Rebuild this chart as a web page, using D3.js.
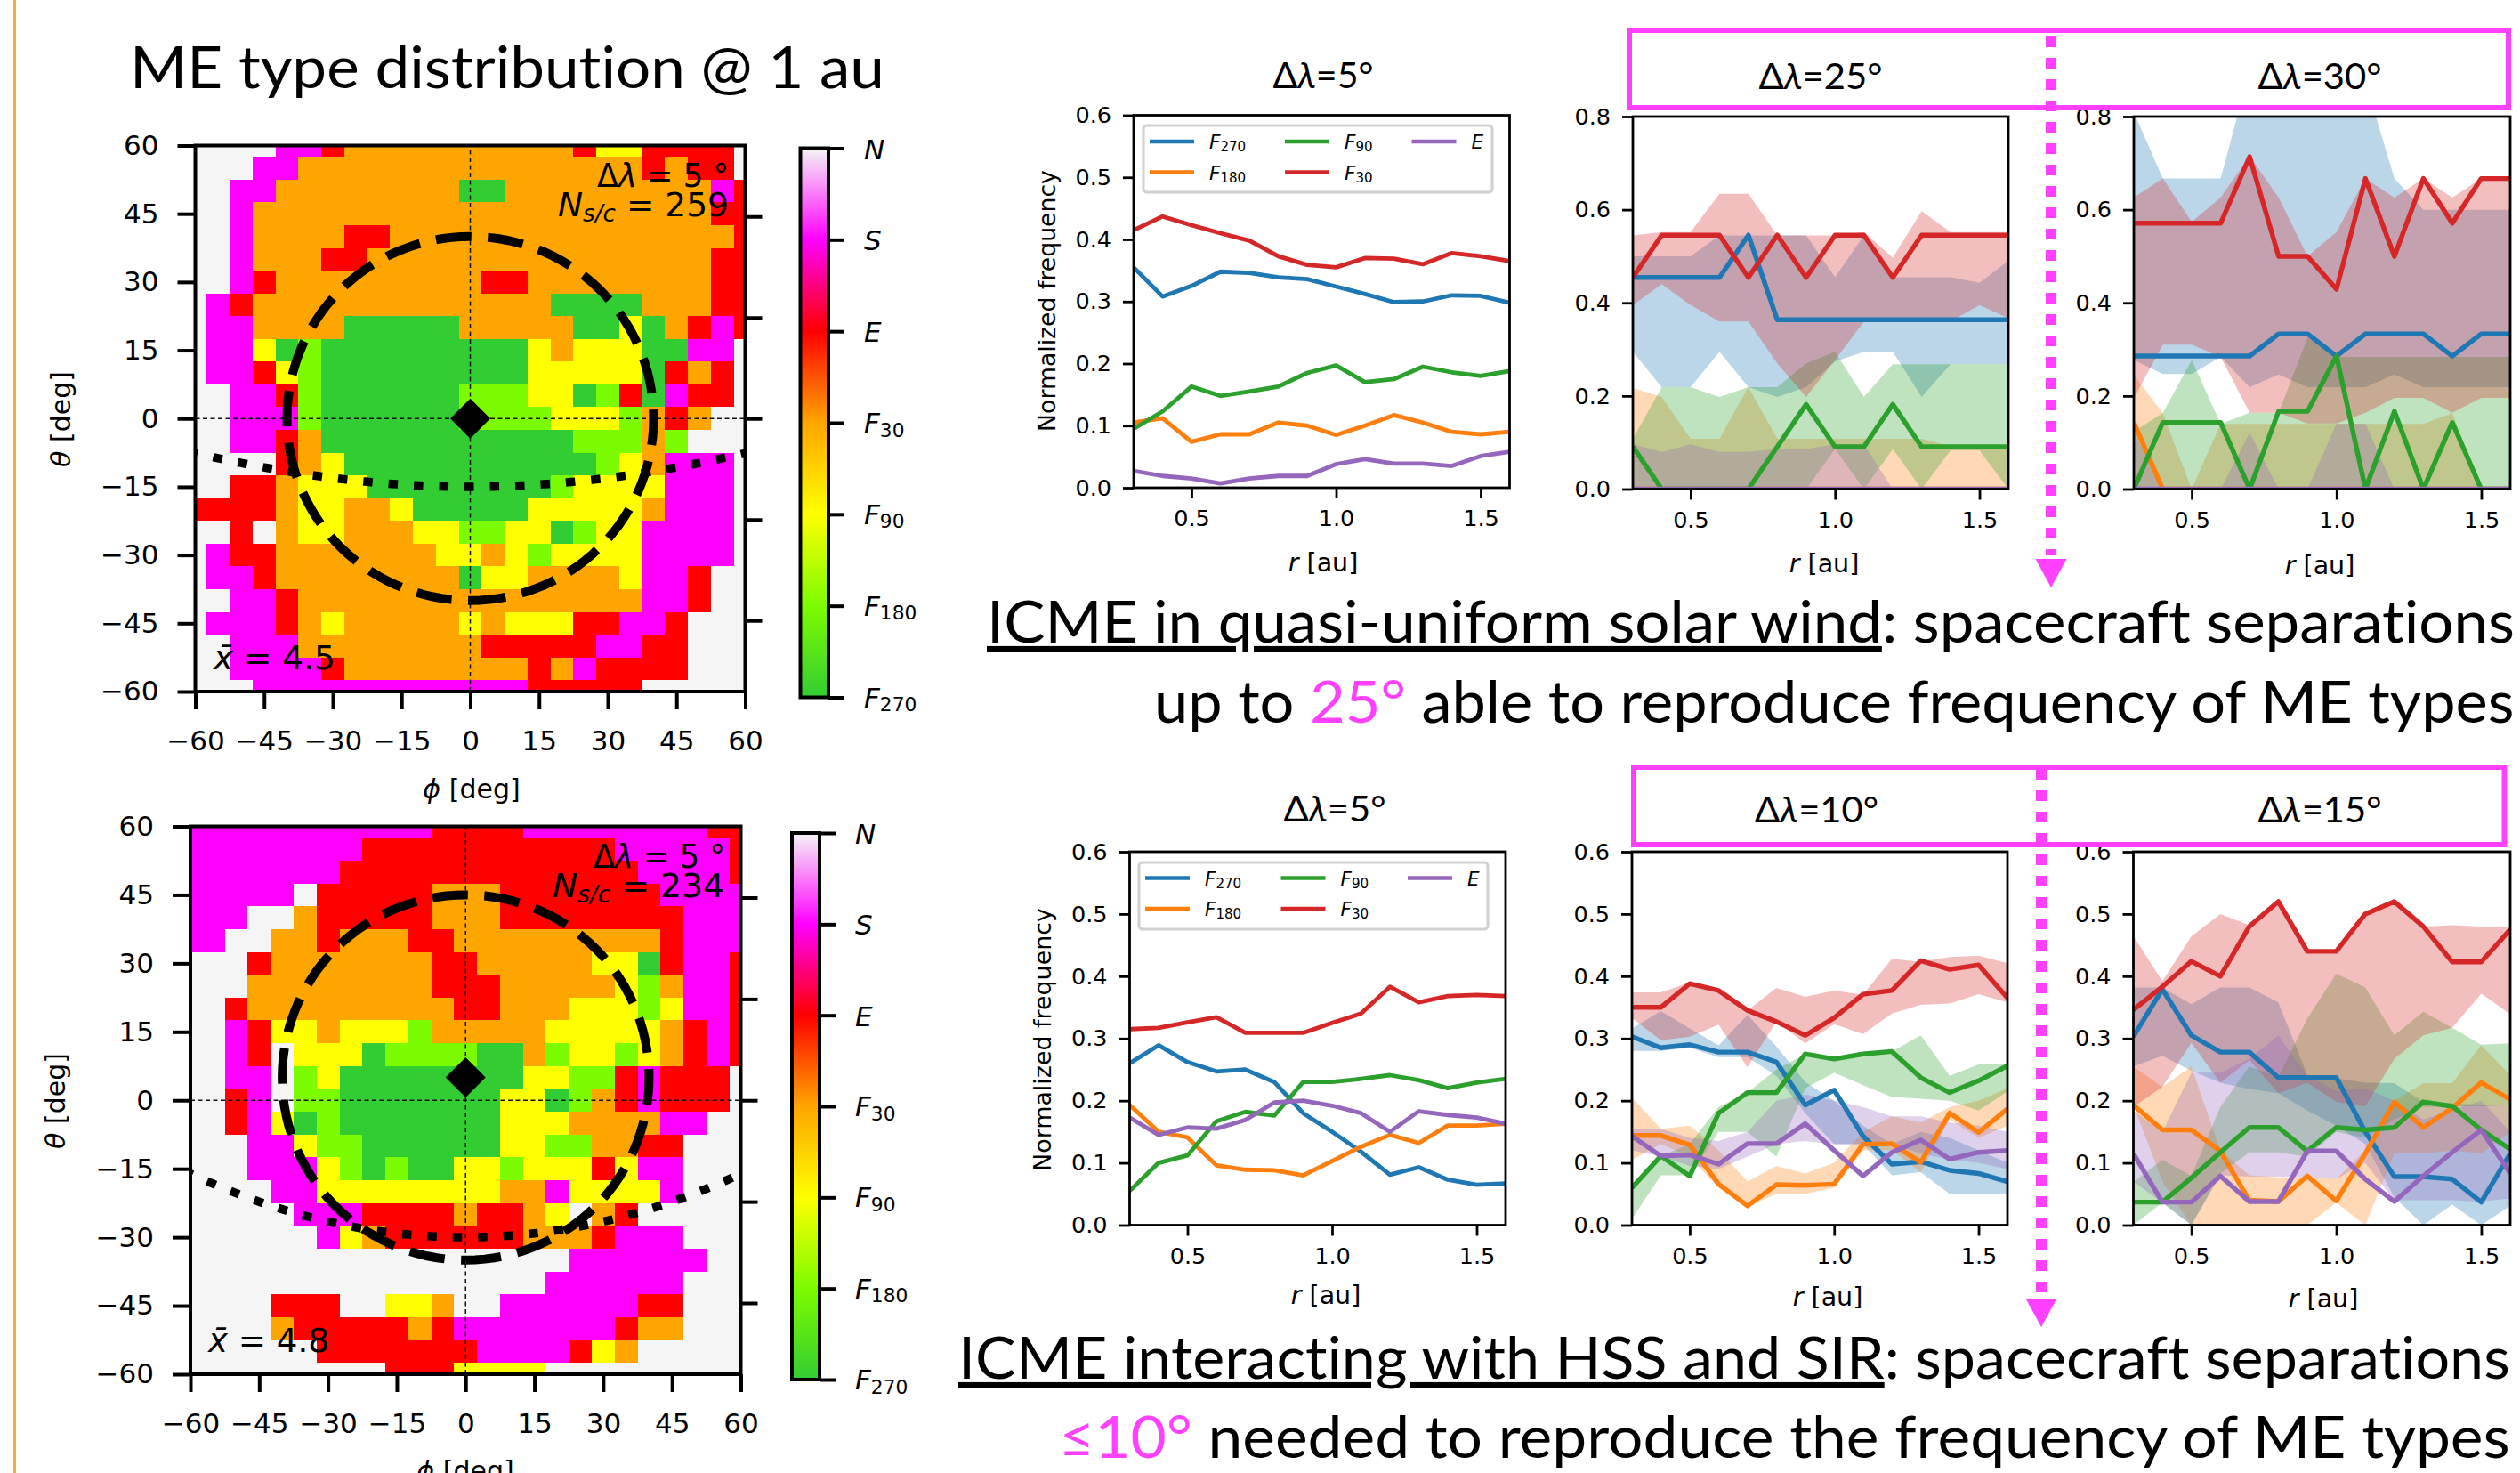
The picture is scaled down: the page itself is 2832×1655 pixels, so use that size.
<!DOCTYPE html>
<html><head><meta charset="utf-8">
<script src="https://cdnjs.cloudflare.com/ajax/libs/d3/7.8.5/d3.min.js"></script>
<style>
html,body{margin:0;padding:0;background:#fff;overflow:hidden}
svg{display:block}
text{font-family:"DejaVu Sans",sans-serif;fill:#000;font-variant-ligatures:none}
.axis path.domain{display:none}
</style></head><body>
<svg id="c" width="2832" height="1655" xmlns="http://www.w3.org/2000/svg"></svg>
<script>
// ---------- DATA ----------
const typeNames = ["N","S","E","F30","F90","F180","F270"];
const typeColors = ["#f5f5f5","#ff00ff","#ff0000","#ffa500","#ffff00","#7cfc00","#32cd32"];
const codeOf = {G:0,M:1,R:2,O:3,Y:4,L:5,D:6};
const angleTicks = [-60,-45,-30,-15,0,15,30,45,60];
const sideTicks = [44.4,22.2,0,-22.2,-44.4];
const phiCentres = d3.range(-60,65,5);

// rows run from theta=60 (first) to theta=-60 (last), columns from phi=-60 to phi=60
const gridTop = [
"GGGGMMROOOOOOOOOORYYRRRRG",
"GGGMMOOOOOOOOOOOOOOORORRG",
"GGMMOOOOOOOODDOOOOOOOOOMR",
"GGMOOOOOOOOOOOOOOOOOOOORR",
"GGMOOOORROOOOOOOOOOOOOOOR",
"GGMOOORROOOOOOOOOOOOOOORR",
"GGMROOOOOOOOORROOOOOOOORR",
"GMROOOOOOOOOOOOODDDDOOORR",
"GMMOOOODDDDDOOOOODDYDORMR",
"GMMYDLDDDDDDDDDYOYYYDDMMG",
"GMMRYLDDDDDDDDDYYYYYDRORG",
"GGMMRLDDDDDDLLLYYDLRDMRRG",
"GGMMMLDDDDDDLLLLYYYLOROGG",
"GGMMRODDDDDDDDDDDLLLOLGGG",
"GGGGROYDDDDDDDDDDDLYOMMMG",
"GGRROYYYDDDDDDDDLYYYYMMMG",
"RRRROYYOOYDDDDDYYYYYOMMMG",
"GGRGOYYOOOYYLLYYDLYYMMMMG",
"GMRROOOOOOOYYOYLYYYYMMMMG",
"GMMROOOOOOOODYYOOOOYMMRGG",
"GGMMROOOOOOOOOOOOOOOMMRGG",
"GMMMROYOOOOOYOYYYRRMMRGGG",
"GGMMMOOOOOOOORRRRRMMRRGGG",
"GGMMMMROOOOOOOOROMRRRRGGG",
"GGGMMMMMMMMMMMMRRRRRGGGGG"];
const gridBottom = [
"MMMMMMMMMMMRRRRMMMMMMMMRR",
"MMMMMMMMRRRRRRRRRRRMMMMMR",
"MMMMMMMRRRRRRRRRRRRRMMMMR",
"MMMMMGRRRRROOORRRRRRRMMMM",
"MMMGGORRRRROOORRRRRRRRMMM",
"MMGGOOROOORROOOOOOOOORMMM",
"GGGROOOOOOORROOOOOYYDRMMR",
"GGGOOOOOOOORRROOOOOYLOMMR",
"GGROOOOOOOOORROOOYYYLYMMR",
"GGMRYYOYYYLOOOOOYYYYYORMR",
"GGMRGYYYDLLLLDDOLYYLYORMR",
"GGMMGLYDDDDDDDDYYLLRMRRRG",
"GGRMGLLDDDDDDDYYDLORMRRRG",
"GGRMYDLDDDDDDDYYYOOOOMMGG",
"GGGMMYLLDDDDDDYYLLOORRGGG",
"GGGMMMYLDLDDYYLYYYRYMMGGG",
"GGGGMMYYYYYYYYOOMYYYYMGGG",
"GGGGGMMMRRRRORROYGORGGGGG",
"GGGGGGMYORRRRRROOORMMMGGG",
"GGGGGGGGGGGGGGGGGMMMMMMGG",
"GGGGGGGGGGGGGGGGMMMMMMGGG",
"GGGGRRRGGYYOGGMMMMMMRRGGG",
"GGGGORRRRRORMMMMMMMROOGGG",
"GGGGGGRRRRRRRMMMMRYOGGGGG",
"GGGGGGGGGRRRYYYYGGGGGGGGG"];

const rValues = [0.3,0.4,0.5,0.6,0.7,0.8,0.9,1.0,1.1,1.2,1.3,1.4,1.5,1.6];
const seriesNames = ["F270","F180","F90","F30","E"];
const seriesColors = ["#1f77b4","#ff7f0e","#2ca02c","#d62728","#9467bd"];
const zeros = [0,0,0,0,0,0,0,0,0,0,0,0,0,0];

// upper row, dLambda = 5
const u5Blue   = [.355,.308,.325,.348,.346,.339,.336,.324,.312,.299,.300,.310,.309,.298];
const u5Orange = [.105,.112,.074,.086,.086,.105,.100,.085,.100,.117,.105,.090,.086,.090];
const u5Green  = [.095,.123,.163,.148,.155,.163,.185,.197,.170,.175,.195,.186,.180,.188];
const u5Red    = [.415,.437,.423,.410,.398,.373,.359,.355,.370,.369,.360,.378,.373,.365];
const u5Purple = [.027,.019,.015,.007,.015,.019,.019,.038,.046,.039,.039,.035,.051,.058];

// upper row, dLambda = 25
const u25Blue   = [.4545,.4545,.4545,.4545,.5454,.3636,.3636,.3636,.3636,.3636,.3636,.3636,.3636,.3636];
const u25BlueHi = [.5,.5,.5,.545,.545,.545,.545,.455,.545,.455,.455,.455,.443,.49];
const u25BlueLo = [.295,.219,.219,.295,.219,.198,.219,.274,.295,.295,.198,.268,.268,.268];
const u25OrangeHi = [.217,.198,.108,.108,.219,.108,.108,.108,.108,.108,.108,.092,.092,.092];
const u25Green   = [.0909,0,0,0,0,.0909,.1818,.0909,.0909,.1818,.0909,.0909,.0909,.0909];
const u25GreenHi = [.108,.219,.219,.198,.219,.219,.27,.295,.198,.268,.268,.268,.268,.268];
const u25GreenLo = [0,0,0,0,0,0,0,.086,0,.086,0,.083,.083,0];
const u25Red   = [.4545,.5454,.5454,.5454,.4545,.5454,.4545,.5454,.5454,.4545,.5454,.5454,.5454,.5454];
const u25RedHi = [.545,.552,.552,.634,.634,.545,.545,.545,.552,.497,.597,.552,.552,.552];
const u25RedLo = [.395,.44,.395,.36,.36,.27,.198,.277,.36,.36,.36,.36,.395,.367];
const u25PurpleHi = [.096,.08,.096,.08,.08,.086,.086,.096,.096,0,0,0,0,0];

// upper row, dLambda = 30
const u30Blue   = [.2857,.2857,.2857,.2857,.2857,.3333,.3333,.2857,.3333,.3333,.3333,.2857,.3333,.3333];
const u30BlueHi = [.81,.667,.667,.667,.9,.9,.9,.9,.875,.667,.6,.6,.6,.6];
const u30BlueLo = [.277,.247,.247,.284,.219,.246,.219,.219,.219,.246,.219,.219,.219,.219];
const u30Orange   = [.143,0,0,0,0,0,0,0,0,0,0,0,0,0];
const u30OrangeHi = [.245,.163,0,.14,.14,.14,.14,.14,.14,.14,.14,.163,0,0];
const u30Green   = [0,.143,.143,.143,0,.167,.167,.286,0,.167,0,.143,0,0];
const u30GreenHi = [.124,.163,.277,.14,.164,.164,.325,.284,.284,.284,.284,.284,.284,.284];
const u30Red   = [.571,.571,.571,.571,.714,.5,.5,.429,.667,.5,.667,.571,.667,.667];
const u30RedHi = [.626,.667,.574,.626,.715,.626,.5,.552,.667,.626,.667,.626,.667,.667];
const u30RedLo = [.195,.31,.31,.284,.164,.164,.141,.141,.164,.196,.196,.164,.196,.196];
const u30PurpleHi = [.124,0,0,0,.121,0,0,.14,.14,0,0,0,0,0];

// lower row, dLambda = 5
const l5Blue   = [.260,.289,.262,.247,.250,.230,.180,.150,.118,.081,.093,.073,.065,.067];
const l5Orange = [.193,.150,.141,.096,.089,.088,.080,.103,.126,.145,.132,.160,.160,.163];
const l5Green  = [.055,.100,.112,.167,.182,.176,.230,.230,.235,.241,.233,.220,.229,.235];
const l5Red    = [.315,.317,.326,.334,.309,.309,.309,.325,.340,.383,.358,.368,.370,.368];
const l5Purple = [.173,.145,.157,.155,.169,.197,.200,.192,.180,.150,.183,.177,.173,.163];

// lower row, dLambda = 10
const l10Blue   = [.303,.285,.29,.278,.278,.262,.193,.217,.143,.098,.102,.088,.083,.07];
const l10BlueHi = [.316,.344,.316,.289,.338,.287,.23,.2,.16,.13,.15,.14,.12,.1];
const l10BlueLo = [.28,.28,.285,.27,.27,.24,.18,.13,.13,.08,.085,.05,.05,.05];
const l10Orange   = [.144,.144,.129,.066,.031,.065,.064,.066,.13,.131,.101,.18,.149,.187];
const l10OrangeHi = [.205,.155,.16,.12,.07,.095,.083,.1,.15,.175,.165,.19,.2,.22];
const l10OrangeLo = [.105,.13,.11,.06,.03,.05,.05,.06,.12,.12,.085,.17,.14,.16];
const l10Green   = [.06,.111,.079,.18,.213,.213,.275,.267,.275,.279,.237,.213,.232,.256];
const l10GreenHi = [.06,.111,.13,.19,.213,.25,.275,.267,.275,.279,.305,.24,.258,.258];
const l10GreenLo = [.01,.08,.08,.15,.15,.11,.22,.245,.225,.206,.203,.2,.184,.215];
const l10Red   = [.35,.35,.388,.377,.345,.327,.305,.333,.371,.377,.425,.411,.418,.365];
const l10RedHi = [.374,.374,.39,.377,.345,.381,.367,.377,.37,.428,.423,.431,.433,.421];
const l10RedLo = [.333,.297,.303,.322,.254,.327,.292,.323,.307,.34,.354,.356,.371,.358];
const l10Purple   = [.143,.111,.113,.098,.131,.131,.163,.12,.079,.117,.137,.106,.117,.12];
const l10PurpleHi = [.155,.155,.14,.135,.15,.2,.21,.2,.19,.175,.175,.165,.16,.15];
const l10PurpleLo = [.12,.11,.095,.09,.11,.13,.135,.13,.13,.13,.115,.105,.1,.09];

// lower row, dLambda = 15
const l15Blue   = [.303,.379,.305,.278,.278,.237,.237,.237,.15,.078,.078,.074,.037,.115];
const l15BlueHi = [.382,.382,.355,.382,.382,.358,.241,.236,.229,.228,.198,.196,.193,.193];
const l15BlueLo = [.255,.272,.248,.229,.219,.212,.184,.16,.13,.045,0,.033,0,.031];
const l15Orange   = [.193,.153,.153,.119,.04,.038,.079,.039,.115,.198,.157,.188,.229,.202];
const l15OrangeHi = [.255,.222,.255,.12,.08,.077,.078,.074,.12,.2,.228,.228,.289,.241];
const l15OrangeLo = [.193,.07,0,0,0,0,0,.036,0,.115,.115,.12,.115,.15];
const l15Green   = [.037,.037,.076,.117,.157,.157,.119,.157,.153,.157,.198,.191,.153,.122];
const l15GreenHi = [.069,.105,.079,.19,.255,.238,.332,.404,.382,.305,.343,.317,.29,.292];
const l15GreenLo = [0,.036,0,.083,.117,.117,.11,.15,.14,.17,.19,.191,.191,.193];
const l15Red   = [.346,.383,.424,.4,.48,.52,.44,.44,.5,.52,.48,.423,.423,.475];
const l15RedHi = [.465,.392,.464,.5,.482,.52,.44,.44,.5,.52,.48,.482,.48,.478];
const l15RedLo = [.19,.222,.293,.229,.265,.212,.229,.198,.191,.267,.305,.317,.372,.339];
const l15Purple   = [.115,.037,.037,.079,.038,.038,.119,.119,.074,.038,.079,.117,.153,.083];
const l15PurpleHi = [.184,.15,.245,.245,.267,.305,.24,.215,.22,.2,.17,.185,.2,.15];
const l15PurpleLo = [.07,.036,0,.08,.078,.078,.078,.074,.1,.04,.04,.04,.038,.043];

// ---------- HELPERS ----------
const svg = d3.select("#c");
const defs = svg.append("defs");
const minus = d3.format("d");

// parts: [{t, i(talic), sub, fill, u(nderline)}]
function rich(parent, x, y, parts, o={}){
  const size = o.size||31;
  const t = parent.append("text")
    .attr("text-anchor", o.anchor||"start")
    .style("font-size", size+"px")
    .style("font-family", o.font||null)
    .attr("xml:space","preserve")
    .style("white-space","pre");
  let wasSub = false;
  parts.forEach(p=>{
    const s = t.append("tspan").text(p.t);
    if(p.i) s.style("font-style","italic");
    if(p.fill) s.style("fill",p.fill);
    if(p.u) s.style("text-decoration","underline");
    if(p.sub){ s.style("font-size",(size*0.7)+"px").attr("dy",size*0.15); }
    else if(wasSub){ s.attr("dy",-size*0.15); }
    wasSub = !!p.sub;
  });
  let tf = `translate(${x},${y})`;
  if(o.rotate) tf += ` rotate(${o.rotate})`;
  if(o.width){
    const w = t.node().getComputedTextLength();
    tf += ` scale(${o.width/w},1)`;
  }
  t.attr("transform",tf);
  return t;
}
function typeLabel(name){
  if(name[0]==="F") return [{t:"F",i:1},{t:name.slice(1),sub:1}];
  return [{t:name,i:1}];
}

let clipId = 0;

function heatmap(o){
  const g = svg.append("g");
  const x = d3.scaleLinear().domain([-60,60]).range([o.x0,o.x1]);
  const y = d3.scaleLinear().domain([-60,60]).range([o.y1,o.y0]);
  const id = "clip"+(clipId++);
  defs.append("clipPath").attr("id",id).append("rect")
    .attr("x",o.x0).attr("y",o.y0).attr("width",o.x1-o.x0).attr("height",o.y1-o.y0);
  const cells = [];
  o.grid.forEach((row,ri)=>{
    const theta = 60-ri*5;
    phiCentres.forEach((phi,ci)=>cells.push({phi,theta,code:codeOf[row[ci]]}));
  });
  const color = d3.scaleOrdinal().domain(d3.range(7)).range(typeColors);
  const clampA = v=>Math.max(-60,Math.min(60,v));
  g.append("g").attr("shape-rendering","crispEdges").selectAll("rect").data(cells).join("rect")
    .attr("x",d=>x(clampA(d.phi-2.5)))
    .attr("width",d=>x(clampA(d.phi+2.5))-x(clampA(d.phi-2.5))+0.5)
    .attr("y",d=>y(clampA(d.theta+2.5)))
    .attr("height",d=>y(clampA(d.theta-2.5))-y(clampA(d.theta+2.5))+0.5)
    .attr("fill",d=>color(d.code));
  const over = g.append("g").attr("clip-path",`url(#${id})`);
  // crosshair
  const line = d3.line().x(d=>x(d[0])).y(d=>y(d[1]));
  [[[-60,0],[60,0]],[[0,-60],[0,60]]].forEach(l=>{
    over.append("path").attr("d",line(l)).attr("stroke","#111").attr("stroke-width",1.5)
      .attr("stroke-dasharray","5 3.5").attr("fill","none");
  });
  // dotted great circle
  const curve = d3.range(-60,60.5,1).map(p=>[p,Math.atan(Math.tan(o.latitude*Math.PI/180)*Math.cos(p*Math.PI/180))*180/Math.PI]);
  over.append("path").attr("d",line(curve)).attr("fill","none").attr("stroke","#000")
    .attr("stroke-width",9.5).attr("stroke-dasharray","10.5 18").attr("stroke-dashoffset",o.dotOffset);
  // dashed cone
  const ring = d3.range(0,361,3).map(a=>{
    const t=a*Math.PI/180; return [o.radius*Math.sin(t), o.centre - o.radius*Math.cos(t)];
  });
  over.append("path").attr("d",line(ring)).attr("fill","none").attr("stroke","#000")
    .attr("stroke-width",10).attr("stroke-dasharray","40 18.5");
  // centre marker
  over.append("path").attr("d",d3.symbol().type(d3.symbolDiamond2).size(1290)())
    .attr("transform",`translate(${x(0)},${y(o.centre)})`).attr("fill","#000");
  // spines
  g.append("rect").attr("x",o.x0).attr("y",o.y0).attr("width",o.x1-o.x0).attr("height",o.y1-o.y0)
    .attr("fill","none").attr("stroke","#000").attr("stroke-width",4);
  // axes
  const ax = g.append("g").attr("class","axis").attr("transform",`translate(0,${o.y1})`)
    .call(d3.axisBottom(x).tickValues(angleTicks).tickSize(20).tickPadding(24).tickFormat(minus));
  const ay = g.append("g").attr("class","axis").attr("transform",`translate(${o.x0},0)`)
    .call(d3.axisLeft(y).tickValues(angleTicks).tickSize(20).tickPadding(21).tickFormat(minus));
  const ar = g.append("g").attr("class","axis").attr("transform",`translate(${o.x1},0)`)
    .call(d3.axisRight(y).tickValues(sideTicks).tickSize(19).tickFormat(""));
  [ax,ay,ar].forEach(a=>{
    a.selectAll("line").attr("stroke","#000").attr("stroke-width",4);
    a.selectAll("text").style("font-size","31px").style("font-family",'"DejaVu Sans"').attr("fill","#000");
  });
  rich(g,o.xLabelX,o.xLabelY,[{t:"ϕ",i:1},{t:" [deg]"}],{anchor:"middle",size:30});
  rich(g,o.yLabelX,o.yLabelY,[{t:"θ",i:1},{t:" [deg]"}],{anchor:"middle",size:30,rotate:-90});
  // notes
  rich(g,o.n1[0],o.n1[1],[{t:"Δ"},{t:"λ",i:1},{t:" = 5 °"}],{size:37,width:o.n1[2]});
  rich(g,o.n2[0],o.n2[1],[{t:"N",i:1},{t:"s/c",i:1,sub:1},{t:" = "+o.count}],{size:37,width:o.n2[2]});
  rich(g,o.n3[0],o.n3[1],[{t:"x̄",i:1},{t:" = "+o.mean}],{size:37,width:o.n3[2]});
  // colour bar
  const gid = "grad"+(clipId++);
  const grad = defs.append("linearGradient").attr("id",gid).attr("x1",0).attr("x2",0).attr("y1",1).attr("y2",0);
  const rev = typeColors.slice().reverse();
  rev.forEach((c,i)=>grad.append("stop").attr("offset",i/(rev.length-1)).attr("stop-color",c));
  g.append("rect").attr("x",o.cb[0]).attr("y",o.cb[2]).attr("width",o.cb[1]-o.cb[0]).attr("height",o.cb[3]-o.cb[2])
    .attr("fill",`url(#${gid})`).attr("stroke","#000").attr("stroke-width",4);
  const cy = d3.scalePoint().domain(typeNames).range([o.cb[2],o.cb[3]]);
  const cAxis = g.append("g").attr("class","axis").attr("transform",`translate(${o.cb[1]},0)`)
    .call(d3.axisRight(cy).tickSize(18).tickFormat(""));
  cAxis.selectAll("line").attr("stroke","#000").attr("stroke-width",4);
  typeNames.forEach(n=>{
    const isF = n[0]==="F";
    rich(g,o.cb[1]+40,cy(n)+(isF?11:12),typeLabel(n),{size:31});
  });
}

function linePanel(o){
  const g = svg.append("g");
  const x = d3.scaleLinear().domain([0.3,1.6]).range([o.x0,o.x1]);
  const y = d3.scaleLinear().domain([0,o.yMax]).range([o.y1,o.y0]);
  const id = "clip"+(clipId++);
  defs.append("clipPath").attr("id",id).append("rect")
    .attr("x",o.x0).attr("y",o.y0).attr("width",o.x1-o.x0).attr("height",o.y1-o.y0);
  const plot = g.append("g").attr("clip-path",`url(#${id})`);
  const area = d3.area().x((d,i)=>x(rValues[i])).y0(d=>y(d[0])).y1(d=>y(d[1]));
  const line = d3.line().x((d,i)=>x(rValues[i])).y(d=>y(d));
  o.series.forEach((s,k)=>{
    if(s.lo && s.hi){
      plot.append("path").datum(s.lo.map((v,i)=>[v,s.hi[i]])).attr("d",area)
        .attr("fill",seriesColors[k]).attr("fill-opacity",0.3).attr("stroke","none");
    }
  });
  o.series.forEach((s,k)=>{
    plot.append("path").datum(s.v).attr("d",line).attr("fill","none")
      .attr("stroke",seriesColors[k]).attr("stroke-width",o.lw||5.4).attr("stroke-linejoin","round");
  });
  g.append("rect").attr("x",o.x0).attr("y",o.y0).attr("width",o.x1-o.x0).attr("height",o.y1-o.y0)
    .attr("fill","none").attr("stroke","#000").attr("stroke-width",2.8);
  const ax = g.append("g").attr("class","axis").attr("transform",`translate(0,${o.y1})`)
    .call(d3.axisBottom(x).tickValues([0.5,1.0,1.5]).tickSize(12).tickPadding(13).tickFormat(d3.format(".1f")));
  const ay = g.append("g").attr("class","axis").attr("transform",`translate(${o.x0},0)`)
    .call(d3.axisLeft(y).tickValues(o.yTicks).tickSize(12).tickPadding(13).tickFormat(d3.format(".1f")));
  [ax,ay].forEach(a=>{
    a.selectAll("line").attr("stroke","#000").attr("stroke-width",2.8);
    a.selectAll("text").style("font-size","25.5px").attr("fill","#000");
  });
  rich(g,o.title[0],o.title[1],[{t:"Δ"},{t:"λ",i:1},{t:"="+o.label+"°"}],
    {anchor:"middle",size:41,font:'Lato,"DejaVu Sans"',width:o.title[2]});
  rich(g,o.rLabel[0],o.rLabel[1],[{t:"r",i:1},{t:" [au]"}],{anchor:"middle",size:28.5});
  if(o.ylab) rich(g,o.ylab[0],o.ylab[1],[{t:"Normalized frequency"}],{anchor:"middle",size:26.5,rotate:-90,width:o.ylab[2]});
  if(o.legend){
    const L=o.legend;
    g.append("rect").attr("x",L.x0).attr("y",L.y0).attr("width",L.x1-L.x0).attr("height",L.y1-L.y0)
      .attr("rx",4).attr("fill","#fff").attr("fill-opacity",.8).attr("stroke","#d0d0d0").attr("stroke-width",3);
    seriesNames.forEach((n,i)=>{
      const col=Math.floor(i/2), row=i%2;
      const lx=L.cols[col], ly=L.rows[row];
      g.append("line").attr("x1",lx).attr("x2",lx+50).attr("y1",ly).attr("y2",ly)
        .attr("stroke",seriesColors[i]).attr("stroke-width",4.6);
      rich(g,lx+67,ly+8,typeLabel(n),{size:21.5});
    });
  }
}

// ---------- DRAW ----------
// left edge rule
svg.append("line").attr("x1",16.5).attr("x2",16.5).attr("y1",0).attr("y2",1655)
  .attr("stroke","#f0b040").attr("stroke-width",3);

rich(svg,146,99,[{t:"ME type distribution @ 1 au"}],{size:66,font:'Lato,"Noto Sans"',width:848});

heatmap({grid:gridTop,x0:219.5,x1:837.5,y0:163.5,y1:777,latitude:-15,radius:40,centre:0,dotOffset:8,
  xLabelX:530,xLabelY:897,yLabelX:79,yLabelY:471,count:"259",mean:"4.5",
  n1:[671,210,148],n2:[627,243,192],n3:[240,752,137],cb:[899.5,931,166.5,783.5]});
heatmap({grid:gridBottom,x0:214,x1:832.5,y0:928.5,y1:1544,latitude:-30,radius:40,centre:5,dotOffset:8,
  xLabelX:523,xLabelY:1663,yLabelX:73,yLabelY:1237,count:"234",mean:"4.8",
  n1:[667,975,148],n2:[621,1008,193],n3:[234,1519,136],cb:[890,921,936,1550]});

linePanel({x0:1274,x1:1696.5,y0:129.5,y1:548,yMax:.6,yTicks:d3.range(0,.61,.1),label:"5",lw:4.8,
  title:[1487,99,113],rLabel:[1487,642],ylab:[1186,338,294],
  series:[{v:u5Blue},{v:u5Orange},{v:u5Green},{v:u5Red},{v:u5Purple}],
  legend:{x0:1285,x1:1677,y0:141,y1:216,cols:[1292,1444,1586.5],rows:[159,193.5]}});
linePanel({x0:1835,x1:2257,y0:131,y1:549.5,yMax:.8,yTicks:d3.range(0,.81,.2),label:"25",
  title:[2046,100,139],rLabel:[2050,643],
  series:[{v:u25Blue,lo:u25BlueLo,hi:u25BlueHi},{v:zeros,lo:zeros,hi:u25OrangeHi},
    {v:u25Green,lo:u25GreenLo,hi:u25GreenHi},{v:u25Red,lo:u25RedLo,hi:u25RedHi},{v:zeros,lo:zeros,hi:u25PurpleHi}]});
linePanel({x0:2398,x1:2821,y0:131,y1:549.5,yMax:.8,yTicks:d3.range(0,.81,.2),label:"30",
  title:[2607,100,139],rLabel:[2607,645],
  series:[{v:u30Blue,lo:u30BlueLo,hi:u30BlueHi},{v:u30Orange,lo:zeros,hi:u30OrangeHi},
    {v:u30Green,lo:zeros,hi:u30GreenHi},{v:u30Red,lo:u30RedLo,hi:u30RedHi},{v:zeros,lo:zeros,hi:u30PurpleHi}]});

linePanel({x0:1269.5,x1:1692,y0:957,y1:1376.5,yMax:.6,yTicks:d3.range(0,.61,.1),label:"5",lw:4.8,
  title:[1500,923,115],rLabel:[1490,1465],ylab:[1181,1168,296],
  series:[{v:l5Blue},{v:l5Orange},{v:l5Green},{v:l5Red},{v:l5Purple}],
  legend:{x0:1280,x1:1672,y0:969,y1:1044,cols:[1287,1439.5,1582],rows:[986.5,1021]}});
linePanel({x0:1834,x1:2256,y0:957,y1:1376.5,yMax:.6,yTicks:d3.range(0,.61,.1),label:"10",
  title:[2041.5,923.5,139],rLabel:[2054,1467],
  series:[{v:l10Blue,lo:l10BlueLo,hi:l10BlueHi},{v:l10Orange,lo:l10OrangeLo,hi:l10OrangeHi},
    {v:l10Green,lo:l10GreenLo,hi:l10GreenHi},{v:l10Red,lo:l10RedLo,hi:l10RedHi},{v:l10Purple,lo:l10PurpleLo,hi:l10PurpleHi}]});
linePanel({x0:2397.5,x1:2821,y0:957,y1:1376.5,yMax:.6,yTicks:d3.range(0,.61,.1),label:"15",
  title:[2607,923.5,139],rLabel:[2611,1469],
  series:[{v:l15Blue,lo:l15BlueLo,hi:l15BlueHi},{v:l15Orange,lo:l15OrangeLo,hi:l15OrangeHi},
    {v:l15Green,lo:l15GreenLo,hi:l15GreenHi},{v:l15Red,lo:l15RedLo,hi:l15RedHi},{v:l15Purple,lo:l15PurpleLo,hi:l15PurpleHi}]});

// magenta annotation
const mag = "#ff40ff";
function callout(x0,x1,y0,y1,ax,ay0,ay1,ay2){
  svg.append("rect").attr("x",x0).attr("y",y0).attr("width",x1-x0).attr("height",y1-y0)
    .attr("fill","none").attr("stroke",mag).attr("stroke-width",6);
  svg.append("line").attr("x1",ax).attr("x2",ax).attr("y1",ay0).attr("y2",ay1)
    .attr("stroke",mag).attr("stroke-width",12).attr("stroke-dasharray","12 12");
  svg.append("path").attr("d",d3.line()([[ax-17.5,ay1+4],[ax+17.5,ay1+4],[ax,ay2]])+"Z").attr("fill",mag);
}
callout(1831,2819,34,121,2305,41,624,660);
callout(1836,2814.5,862,949,2294,864,1455,1491);

const sans = 'Lato,"Noto Sans"';
rich(svg,1109,722,[{t:"ICME in quasi-uniform solar wind",u:1},{t:": spacecraft separations"}],{size:66,font:sans,width:1717});
rich(svg,1297,812,[{t:"up to "},{t:"25°",fill:mag},{t:" able to reproduce frequency of ME types"}],{size:66,font:sans,width:1529});
rich(svg,1077,1549,[{t:"ICME interacting with HSS and SIR",u:1},{t:": spacecraft separations"}],{size:66,font:sans,width:1744});
rich(svg,1190,1638,[{t:"≤10°",fill:mag},{t:" needed to reproduce the frequency of ME types"}],{size:66,font:sans,width:1631});
</script>
</body></html>
